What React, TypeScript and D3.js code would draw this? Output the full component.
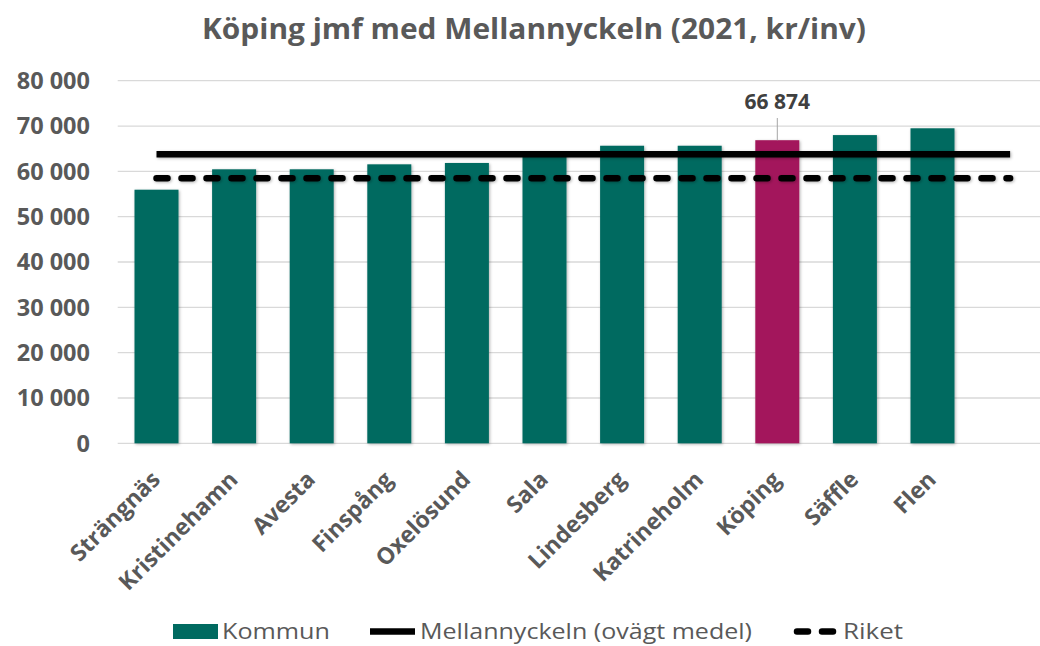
import React from 'react';
import * as d3 from 'd3';

// Chart data (2021, kr/inv)
const kommuner = ['Strängnäs', 'Kristinehamn', 'Avesta', 'Finspång', 'Oxelösund', 'Sala', 'Lindesberg', 'Katrineholm', 'Köping', 'Säffle', 'Flen'];
const kommunValues = [55950, 60450, 60450, 61550, 61850, 64200, 65650, 65650, 66874, 68000, 69500];
const highlight = 'Köping';
const mellannyckeln = 63800;
const riket = 58500;
const yTicks = [0, 10000, 20000, 30000, 40000, 50000, 60000, 70000, 80000];

const W = 1040;
const H = 646;
const plotLeft = 117.7;
const step = 77.6;
const TEAL = '#006A60';
const MAGENTA = '#A3195B';
const GREY = '#595959';
const FONT = '"Open Sans", "Noto Sans", sans-serif';

const fmt = (v: number) => d3.format(',')(v).replace(/,/g, ' ');

export default function App() {
  // extra empty slot at the end, the reference lines run to its centre
  const domain = [...kommuner, ''];
  const x = d3.scaleBand<string>()
    .domain(domain)
    .range([plotLeft, plotLeft + step * domain.length])
    .paddingInner(0.433)
    .paddingOuter(0.2165);
  const y = d3.scaleLinear().domain([0, 80000]).range([443.3, 80.7]);
  const bw = x.bandwidth();
  const cx = (k: string) => (x(k) as number) + bw / 2;
  const lineX1 = cx(kommuner[0]);
  const lineX2 = cx('');

  const hi = kommuner.indexOf(highlight);

  return (
    <svg width={W} height={H} style={{ position: 'fixed', left: 0, top: 0, background: '#fff' }} fontFamily={FONT}>
      <defs>
        <filter id="shadow" filterUnits="userSpaceOnUse" x="0" y="0" width={W} height={H}>
          <feDropShadow dx="1" dy="1" stdDeviation="1.6" floodColor="#000" floodOpacity="0.3" />
        </filter>
      </defs>

      <text x={534} y={39} textAnchor="middle" fontSize={28} fontWeight={700} fill={GREY}
        textLength={664} lengthAdjust="spacingAndGlyphs">
        Köping jmf med Mellannyckeln (2021, kr/inv)
      </text>

      {/* gridlines and y labels */}
      {yTicks.map((t) => (
        <g key={t}>
          <line x1={plotLeft} x2={W} y1={y(t)} y2={y(t)} stroke="#D9D9D9" strokeWidth={1.3} />
          <text x={90} y={y(t) + 8.2} textAnchor="end" fontSize={23.5} fontWeight={700} fill={GREY}>
            {fmt(t)}
          </text>
        </g>
      ))}

      {/* bars */}
      {kommuner.map((k, i) => (
        <rect key={k} x={x(k)} y={y(kommunValues[i])} width={bw} height={y(0) - y(kommunValues[i])}
          fill={k === highlight ? MAGENTA : TEAL} filter="url(#shadow)" />
      ))}

      {/* reference lines */}
      <line x1={lineX1} x2={lineX2} y1={y(mellannyckeln)} y2={y(mellannyckeln)}
        stroke="#000" strokeWidth={6.5} filter="url(#shadow)" />
      <line x1={lineX1} x2={lineX2} y1={y(riket)} y2={y(riket)}
        stroke="#000" strokeWidth={6.5} strokeDasharray="11 14" strokeLinecap="round" filter="url(#shadow)" />

      {/* data label for highlighted kommun */}
      <line x1={cx(highlight)} x2={cx(highlight)} y1={118} y2={y(kommunValues[hi])} stroke="#A6A6A6" strokeWidth={1} />
      <text x={cx(highlight)} y={109} textAnchor="middle" fontSize={21} fontWeight={700} fill="#404040">
        {fmt(kommunValues[hi])}
      </text>

      {/* x labels */}
      {kommuner.map((k) => (
        <text key={k} transform={`translate(${cx(k) + 5},${481}) rotate(-45)`} textAnchor="end"
          fontSize={23} fontWeight={700} fill={GREY}>
          {k}
        </text>
      ))}

      {/* legend */}
      <g fontSize={22} fill={GREY}>
        <rect x={173} y={624} width={45} height={15} fill={TEAL} />
        <text x={222} y={639} textLength={108} lengthAdjust="spacingAndGlyphs">Kommun</text>
        <line x1={370} x2={415} y1={631.5} y2={631.5} stroke="#000" strokeWidth={6.5} />
        <text x={420} y={639} textLength={332} lengthAdjust="spacingAndGlyphs">Mellannyckeln (ovägt medel)</text>
        <line x1={797} x2={835} y1={631.5} y2={631.5} stroke="#000" strokeWidth={6.5}
          strokeDasharray="11 14" strokeLinecap="round" />
        <text x={843} y={639} textLength={60} lengthAdjust="spacingAndGlyphs">Riket</text>
      </g>
    </svg>
  );
}
